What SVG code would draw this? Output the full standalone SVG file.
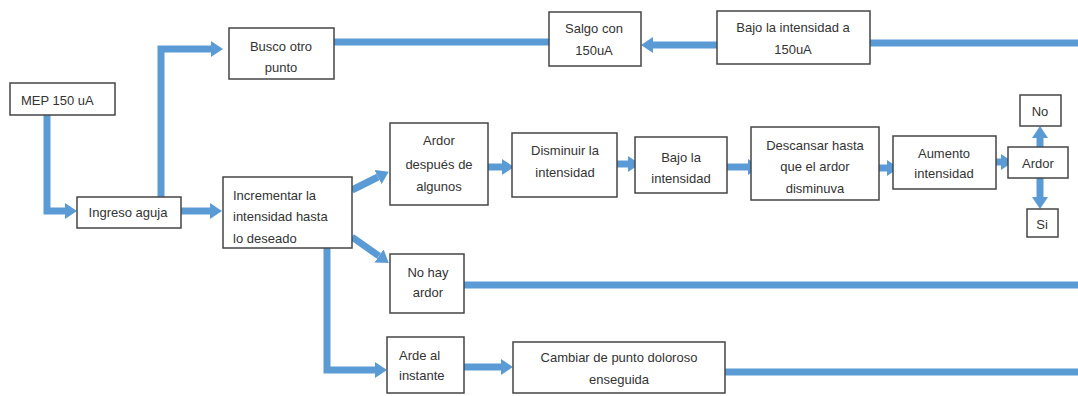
<svg xmlns="http://www.w3.org/2000/svg" width="1078" height="396" viewBox="0 0 1078 396">
<style>
.box{fill:#fff;stroke:#454545;stroke-width:1.5}
.t{font-family:"Liberation Sans",Arial,sans-serif;font-size:13px;fill:#333;text-anchor:middle;dominant-baseline:central}
.l{text-anchor:start}
.c{fill:none;stroke:#5b9bd5;stroke-width:7}
</style>
<defs>
<marker id="ah" markerUnits="userSpaceOnUse" markerWidth="12" markerHeight="16" refX="0" refY="8" orient="auto">
<path d="M0,0 L12,8 L0,16 z" fill="#5b9bd5"/>
</marker>
</defs>
<rect width="1078" height="396" fill="#fff"/>
<g id="connectors">
<path class="c" d="M47,115 V211 H65" marker-end="url(#ah)"/>
<path class="c" d="M161,197 V49 H211" marker-end="url(#ah)"/>
<path class="c" d="M181,211 H210" marker-end="url(#ah)"/>
<path class="c" d="M334,42 H549"/>
<path class="c" d="M717,45 H653" marker-end="url(#ah)"/>
<path class="c" d="M870,43 H1078"/>
<path class="c" d="M352,190 L378,177" marker-end="url(#ah)"/>
<path class="c" d="M352,237 L379,256" marker-end="url(#ah)"/>
<path class="c" d="M327,248 V370 H375" marker-end="url(#ah)"/>
<path class="c" d="M481,167 H502" marker-end="url(#ah)"/>
<path class="c" d="M608,164 H628" marker-end="url(#ah)"/>
<path class="c" d="M725,167 H748" marker-end="url(#ah)"/>
<path class="c" d="M869,168 H887" marker-end="url(#ah)"/>
<path class="c" d="M987,162 H1001" marker-end="url(#ah)"/>
<path class="c" d="M1040,148 V138" marker-end="url(#ah)"/>
<path class="c" d="M1040,178 V197" marker-end="url(#ah)"/>
<path class="c" d="M464,285 H1078"/>
<path class="c" d="M464,367 H501" marker-end="url(#ah)"/>
<path class="c" d="M725,372 H1078"/>
</g>
<g id="mep"><rect class="box" x="10" y="83" width="105" height="32"/><text class="t l" x="21" y="100">MEP 150 uA</text></g>
<g id="ingreso"><rect class="box" x="77" y="197" width="104" height="31"/><text class="t" x="128" y="212">Ingreso aguja</text></g>
<g id="incrementar"><rect class="box" x="223" y="177" width="129" height="71"/><text class="t l" x="233" y="195">Incrementar la</text><text class="t l" x="233" y="216">intensidad hasta</text><text class="t l" x="233" y="238">lo deseado</text></g>
<g id="busco"><rect class="box" x="229" y="28" width="105" height="51"/><text class="t" x="281" y="46">Busco otro</text><text class="t" x="281" y="67">punto</text></g>
<g id="salgo"><rect class="box" x="549" y="12" width="92" height="54"/><text class="t" x="594" y="28">Salgo con</text><text class="t" x="594" y="50">150uA</text></g>
<g id="bajo150"><rect class="box" x="717" y="11" width="153" height="53"/><text class="t" x="793" y="27">Bajo la intensidad a</text><text class="t" x="793" y="49">150uA</text></g>
<g id="ardordespues"><rect class="box" x="390" y="123" width="98" height="82"/><text class="t" x="439" y="140">Ardor</text><text class="t" x="439" y="164">después de</text><text class="t" x="439" y="186">algunos</text></g>
<g id="disminuir"><rect class="box" x="512" y="133" width="105" height="64"/><text class="t" x="565" y="150">Disminuir la</text><text class="t" x="565" y="172">intensidad</text></g>
<g id="bajo"><rect class="box" x="635" y="137" width="92" height="56"/><text class="t" x="681" y="157">Bajo la</text><text class="t" x="681" y="178">intensidad</text></g>
<g id="descansar"><rect class="box" x="751" y="127" width="128" height="73"/><text class="t" x="815" y="145">Descansar hasta</text><text class="t" x="815" y="166">que el ardor</text><text class="t" x="815" y="188">disminuva</text></g>
<g id="aumento"><rect class="box" x="893" y="136" width="103" height="53"/><text class="t" x="944" y="153">Aumento</text><text class="t" x="944" y="173">intensidad</text></g>
<g id="ardor"><rect class="box" x="1008" y="147" width="60" height="31"/><text class="t" x="1038" y="163">Ardor</text></g>
<g id="no"><rect class="box" x="1020" y="95" width="41" height="31"/><text class="t" x="1040" y="111">No</text></g>
<g id="si"><rect class="box" x="1027" y="209" width="31" height="28"/><text class="t" x="1042" y="224">Si</text></g>
<g id="nohay"><rect class="box" x="390" y="254" width="74" height="59"/><text class="t" x="428" y="272">No hay</text><text class="t" x="428" y="292">ardor</text></g>
<g id="arde"><rect class="box" x="387" y="337" width="77" height="56"/><text class="t l" x="399" y="355">Arde al</text><text class="t l" x="399" y="375">instante</text></g>
<g id="cambiar"><rect class="box" x="513" y="342" width="212" height="51"/><text class="t" x="619" y="357">Cambiar de punto doloroso</text><text class="t" x="619" y="379">enseguida</text></g>
</svg>
